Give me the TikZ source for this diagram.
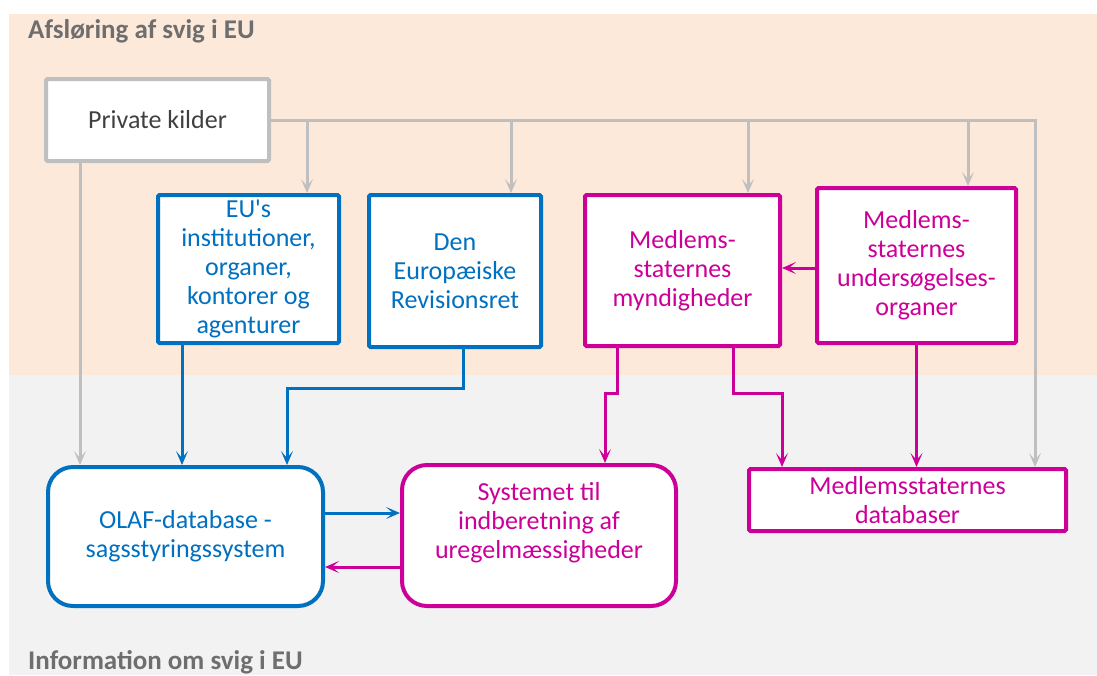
\documentclass[tikz,border=0pt]{standalone}
\usepackage{fontspec}
\setmainfont{Carlito}
\usetikzlibrary{arrows.meta, positioning}
\definecolor{eublue}{RGB}{0,112,192}
\definecolor{msmag}{RGB}{204,0,153}
\definecolor{srcgrey}{RGB}{191,191,191}
\definecolor{peach}{RGB}{253,233,218}
\definecolor{bggrey}{RGB}{242,242,242}
\definecolor{headgrey}{RGB}{110,110,110}
\tikzstyle{heading} = [anchor=west, inner sep=0pt, text=headgrey, font=\bfseries\fontsize{27}{32}\selectfont]
\tikzstyle{src} = [rectangle, rounded corners=1.5pt, align=center, draw=srcgrey, line width=4pt, fill=white, text={black!75}]
\tikzstyle{eub} = [rectangle, rounded corners=1.5pt, align=center, draw=eublue, line width=4pt, fill=white, text=eublue]
\tikzstyle{msb} = [rectangle, rounded corners=1.5pt, align=center, draw=msmag, line width=4pt, fill=white, text=msmag]
\tikzstyle{arrow} = [line width=3pt, ->, >={Stealth[length=14pt, width=12pt, inset=7pt]}]

\begin{document}
\begin{tikzpicture}[x=1pt, y=-1pt, font=\fontsize{26}{29}\selectfont]
	\useasboundingbox (0,0) rectangle (1097,675);
	\fill [peach] (9,14) rectangle (1097,375);
	\fill [bggrey] (9,375) rectangle (1097,675);
	\node (title) [heading] at (28,31) {Afsløring af svig i EU};
	\node (footer) [heading] at (28,662) {Information om svig i EU};
	% upper row
	\node (priv) [src, minimum width=223pt, minimum height=82pt] at (157.5,120) {Private kilder};
	\node (euinst) [eub, minimum width=181pt, minimum height=148pt] at (248.5,269) {EU\textquotesingle s\\institutioner,\\organer,\\kontorer og\\agenturer};
	\node (revret) [eub, minimum width=172pt, minimum height=152pt, right=26pt of euinst, yshift=-2pt] {Den\\Europæiske\\Revisionsret};
	\node (myn) [msb, minimum width=195pt, minimum height=151pt] at (682.5,270.5) {Medlems-\\staternes\\myndigheder};
	\node (unders) [msb, minimum width=199pt, minimum height=155pt, right=33pt of myn, yshift=5pt] {Medlems-\\staternes\\undersøgelses-\\organer};
	% lower row
	\node (olaf) [eub, rounded corners=25pt, minimum width=275pt, minimum height=139pt] at (185.5,536.5) {OLAF-database -\\sagsstyringssystem};
	\node (irms) [msb, rounded corners=25pt, minimum width=274pt, minimum height=141pt] at (539,535.5) {};
	\node (irmstext) [align=center, text=msmag] at ([yshift=13pt]irms.center) {Systemet til\\indberetning af\\uregelmæssigheder};
	\node (mdb) [msb, minimum width=317pt, minimum height=62pt] at (907.5,500) {Medlemsstaternes\\databaser};
	% private sources
	\draw [arrow, srcgrey] (priv.east) -| ([xshift=58.5pt]euinst.north);
	\draw [arrow, srcgrey] (priv.east) -| ([xshift=56pt]revret.north);
	\draw [arrow, srcgrey] (priv.east) -| ([xshift=65.5pt]myn.north);
	\draw [arrow, srcgrey] (priv.east) -| ([xshift=51.5pt]unders.north);
	\draw [arrow, srcgrey] (priv.east) -| ([xshift=127.5pt]mdb.north);
	\draw [arrow, srcgrey] ([xshift=-77.5pt]priv.south) -- ([xshift=-77.5pt]priv.south |- olaf.north);
	% EU side
	\draw [arrow, eublue] ([xshift=-66.5pt]euinst.south) -- ([xshift=-66.5pt]euinst.south |- olaf.north);
	\draw [arrow, eublue] ([xshift=8pt]revret.south) -- ++(0,39) -| ([xshift=101.5pt]olaf.north);
	\draw [arrow, eublue] ([yshift=23.5pt]olaf.east) -- ([yshift=23.5pt]olaf.east -| irms.west);
	% member states
	\draw [arrow, msmag] ([yshift=-31.5pt]irms.west) -- ([yshift=-31.5pt]irms.west -| olaf.east);
	\draw [arrow, msmag] ([yshift=-2.5pt]unders.west) -- ([yshift=-2.5pt]unders.west -| myn.east);
	\draw [arrow, msmag] ([xshift=-65.5pt]myn.south) -- ++(0,45) -| ([xshift=66pt]irms.north);
	\draw [arrow, msmag] ([xshift=50.5pt]myn.south) -- ++(0,45) -| ([xshift=-125.5pt]mdb.north);
	\draw [arrow, msmag] (unders.south) -- (unders.south |- mdb.north);
\end{tikzpicture}
\end{document}
